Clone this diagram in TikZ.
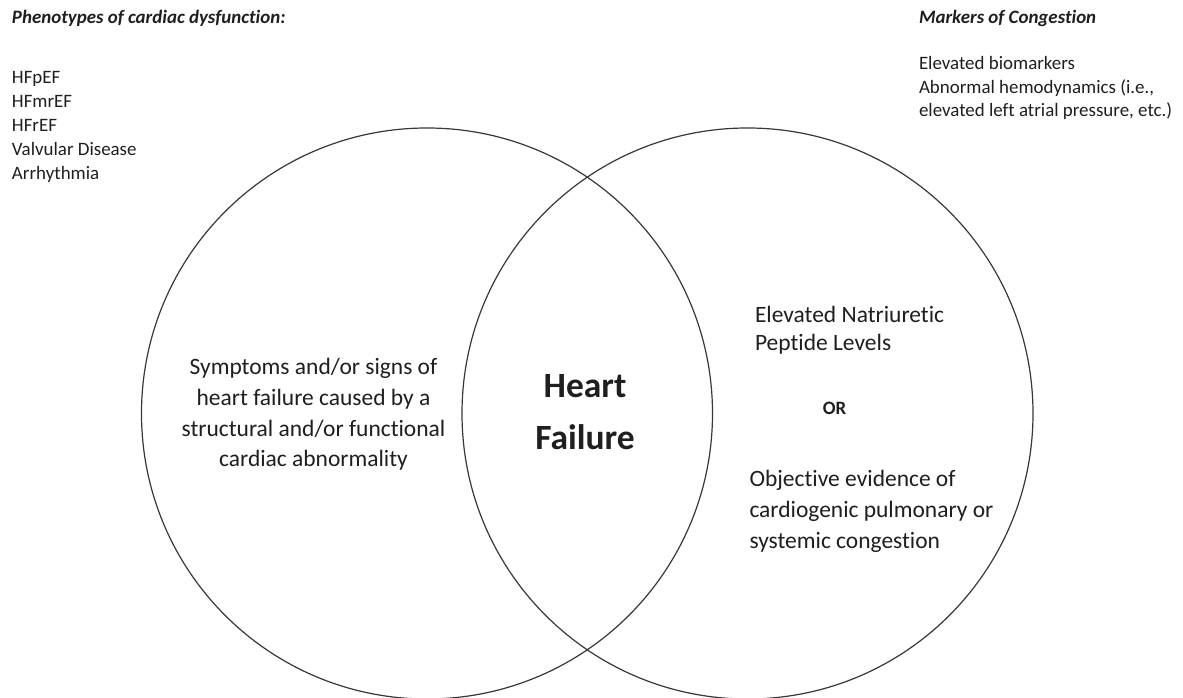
\documentclass[tikz,border=0pt]{standalone}
\usepackage{fontspec}
\setmainfont{Carlito}[Ligatures=CommonOff]
\usetikzlibrary{positioning}

% multi-line blocks whose baseline is that of their first line
\newcommand{\leftlines}[1]{\begin{tabular}[t]{@{}l@{}}#1\end{tabular}}
\newcommand{\centerlines}[1]{\begin{tabular}[t]{@{}c@{}}#1\end{tabular}}

\tikzset{
  venn/.style={circle, draw=black!78, line width=0.9pt, inner sep=0pt,
               minimum size=428.25pt},
  txt/.style={inner sep=0pt, outer sep=0pt, text=black!88},
  heading/.style={txt, font=\fontsize{14.2}{18}\selectfont\bfseries\itshape},
  small/.style={txt, font=\fontsize{14.2}{18}\selectfont},
  body/.style={txt, font=\fontsize{17.6}{22.9}\selectfont},
  big/.style={txt, font=\fontsize{26.6}{39}\selectfont\bfseries},
}

\begin{document}
\begin{tikzpicture}[x=0.75pt, y=-0.75pt]
  \useasboundingbox[fill=white] (0,0) rectangle (1183,698);

  % the two overlapping sets
  \node[venn] (left)  at (427,413.5)   {};
  \node[venn] (right) at (747.5,413.5) {};

  % top-left list of phenotypes
  \node[heading, anchor=base west] (phenoHead) at (12,23.5)
       {Phenotypes of cardiac dysfunction:};
  \node[small, anchor=base west] (phenoList) at (12,84)
       {\leftlines{HFpEF\\ HFmrEF\\ HFrEF\\ Valvular Disease\\ Arrhythmia}};

  % top-right list of congestion markers
  \node[heading, anchor=base west] (markHead) at (919,24)
       {Markers of Congestion};
  \node[small, font=\fontsize{14.2}{17.8}\selectfont, anchor=base west] (markList) at (919,69.3)
       {\leftlines{Elevated biomarkers\\ Abnormal hemodynamics (i.e.,\\ elevated left atrial pressure, etc.)}};

  % left set
  \node[body, anchor=base] (symptoms) at (313.5,375)
       {\centerlines{Symptoms and/or signs of\\ heart failure caused by a\\ structural and/or functional\\ cardiac abnormality}};

  % intersection
  \node[big, anchor=base] (hf) at (585,398)
       {\centerlines{Heart\\ Failure}};

  % right set
  \node[body, font=\fontsize{17.6}{21}\selectfont, anchor=base west] (bnp) at (755,323)
       {\leftlines{Elevated Natriuretic\\ Peptide Levels}};
  \node[txt, font=\fontsize{14.2}{18}\selectfont\bfseries, anchor=base] (or) at (834.5,415) {OR};
  \node[body, anchor=base west] (congestion) at (749.5,487)
       {\leftlines{Objective evidence of\\ cardiogenic pulmonary or\\ systemic congestion}};
\end{tikzpicture}
\end{document}
